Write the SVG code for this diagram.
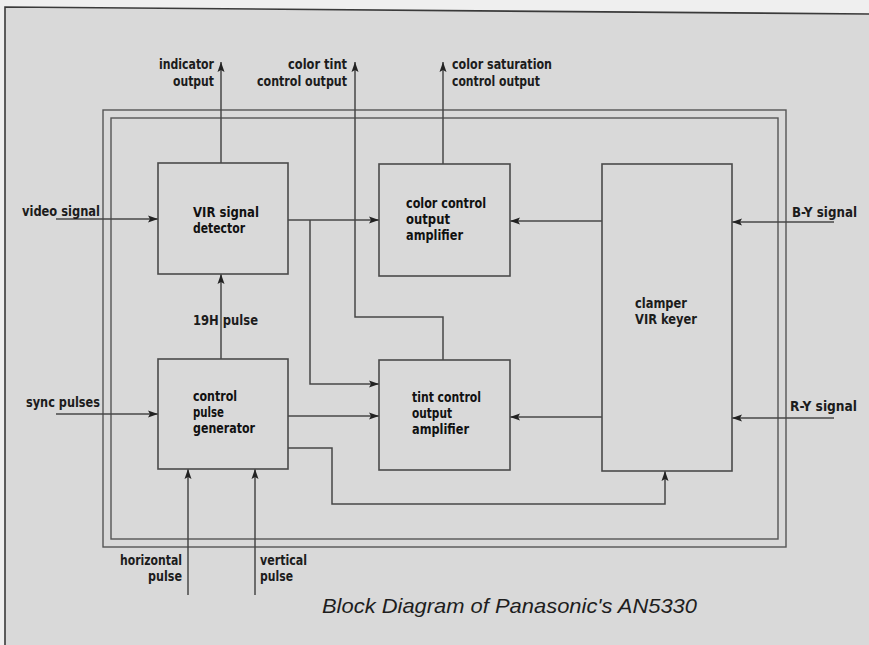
<svg xmlns="http://www.w3.org/2000/svg" width="869" height="645" viewBox="0 0 869 645">
<defs>
<marker id="ah" markerUnits="userSpaceOnUse" markerWidth="10" markerHeight="8" refX="10" refY="4" orient="auto">
<path d="M0,0.5 L10,4 L0,7.5 L2,4 z" fill="#222"/>
</marker>
<style>
.bg{fill:#d9d9d9}
.pg{fill:#efefef}
.edge{stroke:#3a3a3a;stroke-width:1.6;fill:none}
.box{fill:none;stroke:#4a4a4a;stroke-width:1.6}
.frame{fill:none;stroke:#555;stroke-width:1.4}
.ln{fill:none;stroke:#474747;stroke-width:1.5}
.ar{marker-end:url(#ah)}
text{font-family:"Liberation Sans Narrow","DejaVu Sans Condensed","Liberation Sans",sans-serif;font-weight:bold;font-size:14px;fill:#1c1c1c}
text.b{fill:#111}
text.cap{font-family:"Liberation Sans",Arial,sans-serif;font-weight:normal;font-style:italic;font-size:21px;fill:#1e1e1e}
</style>
</defs>
<rect class="pg" x="0" y="0" width="869" height="645"/>
<polygon class="bg" points="5,7 869,14 869,645 5,645"/>
<path class="edge" d="M5,645 L5,7 L869,14"/>

<g id="chip">
<rect class="frame" x="103" y="110" width="683" height="437"/>
<rect class="frame" x="111" y="118" width="667" height="421"/>
</g>

<g id="connectors">
<path class="ln ar" d="M56,219 H158"/>
<path class="ln ar" d="M56,414 H158"/>
<path class="ln ar" d="M288,220 H379"/>
<path class="ln ar" d="M310,220 V384 H379"/>
<path class="ln ar" d="M288,416 H379"/>
<path class="ln ar" d="M288,448 H332 V504 H665 V471"/>
<path class="ln ar" d="M221,359 V274"/>
<path class="ln ar" d="M188,595 V469"/>
<path class="ln ar" d="M255,595 V469"/>
<path class="ln ar" d="M221,163 V62"/>
<path class="ln ar" d="M443,360 V317 H355 V62"/>
<path class="ln ar" d="M443,164 V62"/>
<path class="ln ar" d="M602,221 H510"/>
<path class="ln ar" d="M602,417 H510"/>
<path class="ln ar" d="M834,222 H732"/>
<path class="ln ar" d="M834,418 H732"/>
</g>

<g id="vir_detector">
<rect class="box" x="158" y="163" width="130" height="111"/>
<text class="b" x="193" y="217" textLength="66" lengthAdjust="spacingAndGlyphs">VIR signal</text>
<text class="b" x="193" y="233" textLength="52" lengthAdjust="spacingAndGlyphs">detector</text>
</g>

<g id="color_control">
<rect class="box" x="379" y="164" width="131" height="112"/>
<text class="b" x="406" y="208" textLength="80" lengthAdjust="spacingAndGlyphs">color control</text>
<text class="b" x="406" y="224" textLength="44" lengthAdjust="spacingAndGlyphs">output</text>
<text class="b" x="406" y="240" textLength="57" lengthAdjust="spacingAndGlyphs">amplifier</text>
</g>

<g id="control_pulse_generator">
<rect class="box" x="158" y="359" width="130" height="110"/>
<text class="b" x="193" y="401" textLength="44" lengthAdjust="spacingAndGlyphs">control</text>
<text class="b" x="193" y="417" textLength="31" lengthAdjust="spacingAndGlyphs">pulse</text>
<text class="b" x="193" y="433" textLength="62" lengthAdjust="spacingAndGlyphs">generator</text>
</g>

<g id="tint_control">
<rect class="box" x="379" y="360" width="131" height="110"/>
<text class="b" x="412" y="402" textLength="69" lengthAdjust="spacingAndGlyphs">tint control</text>
<text class="b" x="412" y="418" textLength="40" lengthAdjust="spacingAndGlyphs">output</text>
<text class="b" x="412" y="434" textLength="57" lengthAdjust="spacingAndGlyphs">amplifier</text>
</g>

<g id="clamper">
<rect class="box" x="602" y="164" width="130" height="307"/>
<text x="635" y="308" textLength="52" lengthAdjust="spacingAndGlyphs">clamper</text>
<text x="635" y="324" textLength="62" lengthAdjust="spacingAndGlyphs">VIR keyer</text>
</g>

<g id="labels">
<text x="214" y="69" text-anchor="end" textLength="55" lengthAdjust="spacingAndGlyphs">indicator</text>
<text x="214" y="86" text-anchor="end" textLength="41" lengthAdjust="spacingAndGlyphs">output</text>
<text x="347" y="69" text-anchor="end" textLength="59" lengthAdjust="spacingAndGlyphs">color tint</text>
<text x="347" y="86" text-anchor="end" textLength="90" lengthAdjust="spacingAndGlyphs">control output</text>
<text x="452" y="69" textLength="100" lengthAdjust="spacingAndGlyphs">color saturation</text>
<text x="452" y="86" textLength="88" lengthAdjust="spacingAndGlyphs">control output</text>
<text x="22" y="216" textLength="78" lengthAdjust="spacingAndGlyphs">video signal</text>
<text x="26" y="407" textLength="74" lengthAdjust="spacingAndGlyphs">sync pulses</text>
<text x="792" y="217" textLength="65" lengthAdjust="spacingAndGlyphs">B-Y signal</text>
<text x="790" y="411" textLength="67" lengthAdjust="spacingAndGlyphs">R-Y signal</text>
<text x="193" y="325" textLength="65" lengthAdjust="spacingAndGlyphs">19H pulse</text>
<text x="182" y="565" text-anchor="end" textLength="62" lengthAdjust="spacingAndGlyphs">horizontal</text>
<text x="182" y="581" text-anchor="end" textLength="34" lengthAdjust="spacingAndGlyphs">pulse</text>
<text x="260" y="565" textLength="47" lengthAdjust="spacingAndGlyphs">vertical</text>
<text x="260" y="581" textLength="33" lengthAdjust="spacingAndGlyphs">pulse</text>
</g>

<text class="cap" x="322" y="613" textLength="375" lengthAdjust="spacingAndGlyphs">Block Diagram of Panasonic's AN5330</text>
</svg>
